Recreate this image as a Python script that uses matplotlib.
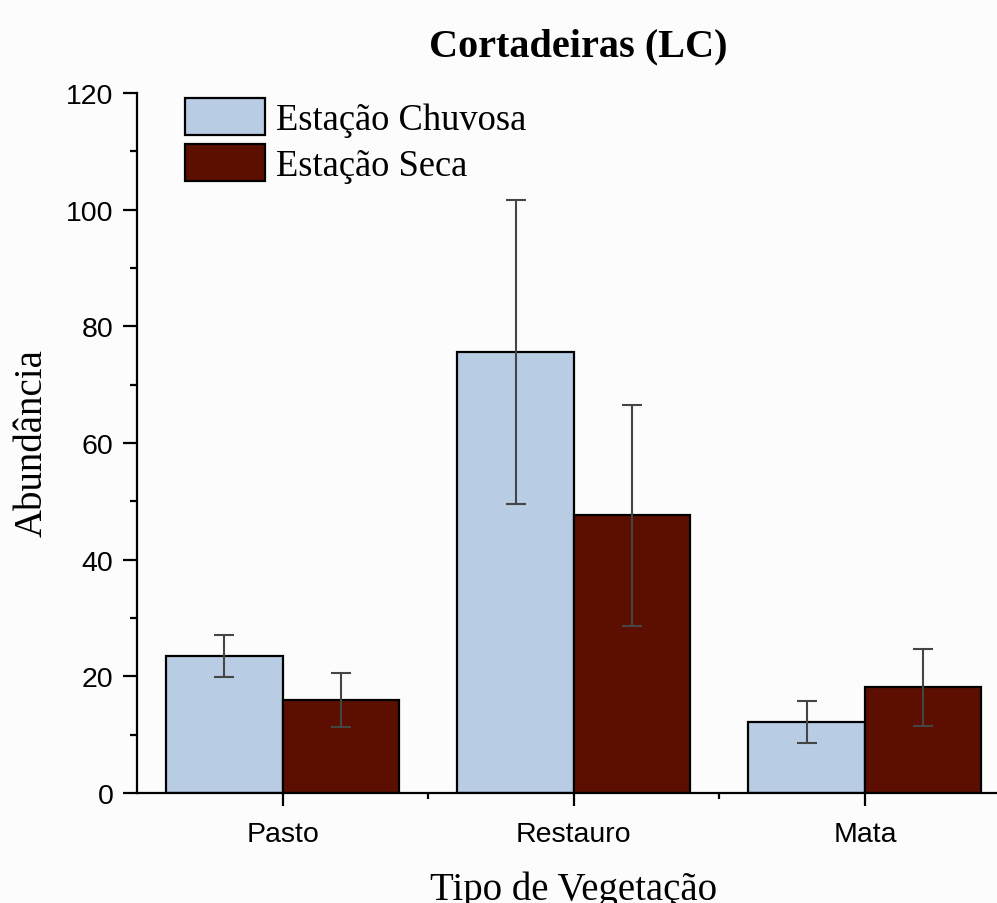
import matplotlib
matplotlib.use("Agg")
import matplotlib.pyplot as plt
import numpy as np
from matplotlib.ticker import MultipleLocator, FixedLocator

categories = ["Pasto", "Restauro", "Mata"]
series_names = ["Estação Chuvosa", "Estação Seca"]
chuvosa = [23.5, 75.6, 12.2]
chuvosa_err = [3.65, 26.1, 3.55]
seca = [16.0, 47.6, 18.1]
seca_err = [4.6, 18.9, 6.6]
colors = ["#B8CCE4", "#5C0F00"]

W, H = 997, 904
fig = plt.figure(figsize=(W / 100, H / 100), dpi=100)
fig.patch.set_facecolor("#fcfcfc")

left_px, right_px = 137, 1010.5
bottom_px, top_px = 794, 94
ax = fig.add_axes([left_px / W, 1 - bottom_px / H,
                   (right_px - left_px) / W, (bottom_px - top_px) / H])
ax.set_facecolor("#fcfcfc")

x = np.arange(len(categories))
w = 0.4
errkw = dict(ecolor="#454545", elinewidth=1.5, capsize=7, capthick=1.5)
ax.bar(x - w / 2, chuvosa, w, yerr=chuvosa_err, color=colors[0],
       edgecolor="black", linewidth=1.6, label=series_names[0],
       error_kw=errkw, zorder=2)
ax.bar(x + w / 2, seca, w, yerr=seca_err, color=colors[1],
       edgecolor="black", linewidth=1.6, label=series_names[1],
       error_kw=errkw, zorder=2)

ax.set_xlim(-0.5, 2.5)
ax.set_ylim(0, 120)
ax.yaxis.set_major_locator(MultipleLocator(20))
ax.yaxis.set_minor_locator(MultipleLocator(10))
ax.set_xticks(x)
ax.set_xticklabels(categories)
ax.xaxis.set_minor_locator(FixedLocator([0.5, 1.5]))

for s in ["top", "right"]:
    ax.spines[s].set_visible(False)
for s in ["left", "bottom"]:
    ax.spines[s].set_linewidth(1.6)

ax.tick_params(axis="y", which="major", length=10, width=1.6, pad=7,
               labelsize=20.5, direction="out")
ax.tick_params(axis="y", which="minor", length=5, width=1.6, direction="out")
ax.tick_params(axis="x", which="major", length=9, width=1.6, pad=11,
               labelsize=20.5, direction="out")
ax.tick_params(axis="x", which="minor", length=4, width=1.6, direction="out")
for lab in ax.get_xticklabels() + ax.get_yticklabels():
    lab.set_fontfamily("Liberation Sans")

fig.text(578 / W, 1 - 56 / H, "Cortadeiras (LC)", ha="center", va="baseline",
         fontsize=29, fontweight="bold", family="Liberation Serif")
fig.text(32 / W, 1 - 443.5 / H, "Abundância", ha="center", va="center",
         rotation=90, fontsize=28, family="Liberation Serif")
fig.text(574 / W, 4 / H, "Tipo de Vegetação", ha="center", va="baseline",
         fontsize=28, family="Liberation Serif")

leg = ax.legend(loc="upper left", bbox_to_anchor=(185 / W, 1 - 99 / H),
                bbox_transform=fig.transFigure, frameon=False,
                prop={"family": "Liberation Serif", "size": 26.3},
                handlelength=2.2, handleheight=1.2, handletextpad=0.28,
                labelspacing=0.18, borderpad=0, borderaxespad=0)
for p in leg.get_patches():
    p.set_linewidth(1.6)

fig.savefig("out.png", dpi=100, facecolor=fig.get_facecolor())
